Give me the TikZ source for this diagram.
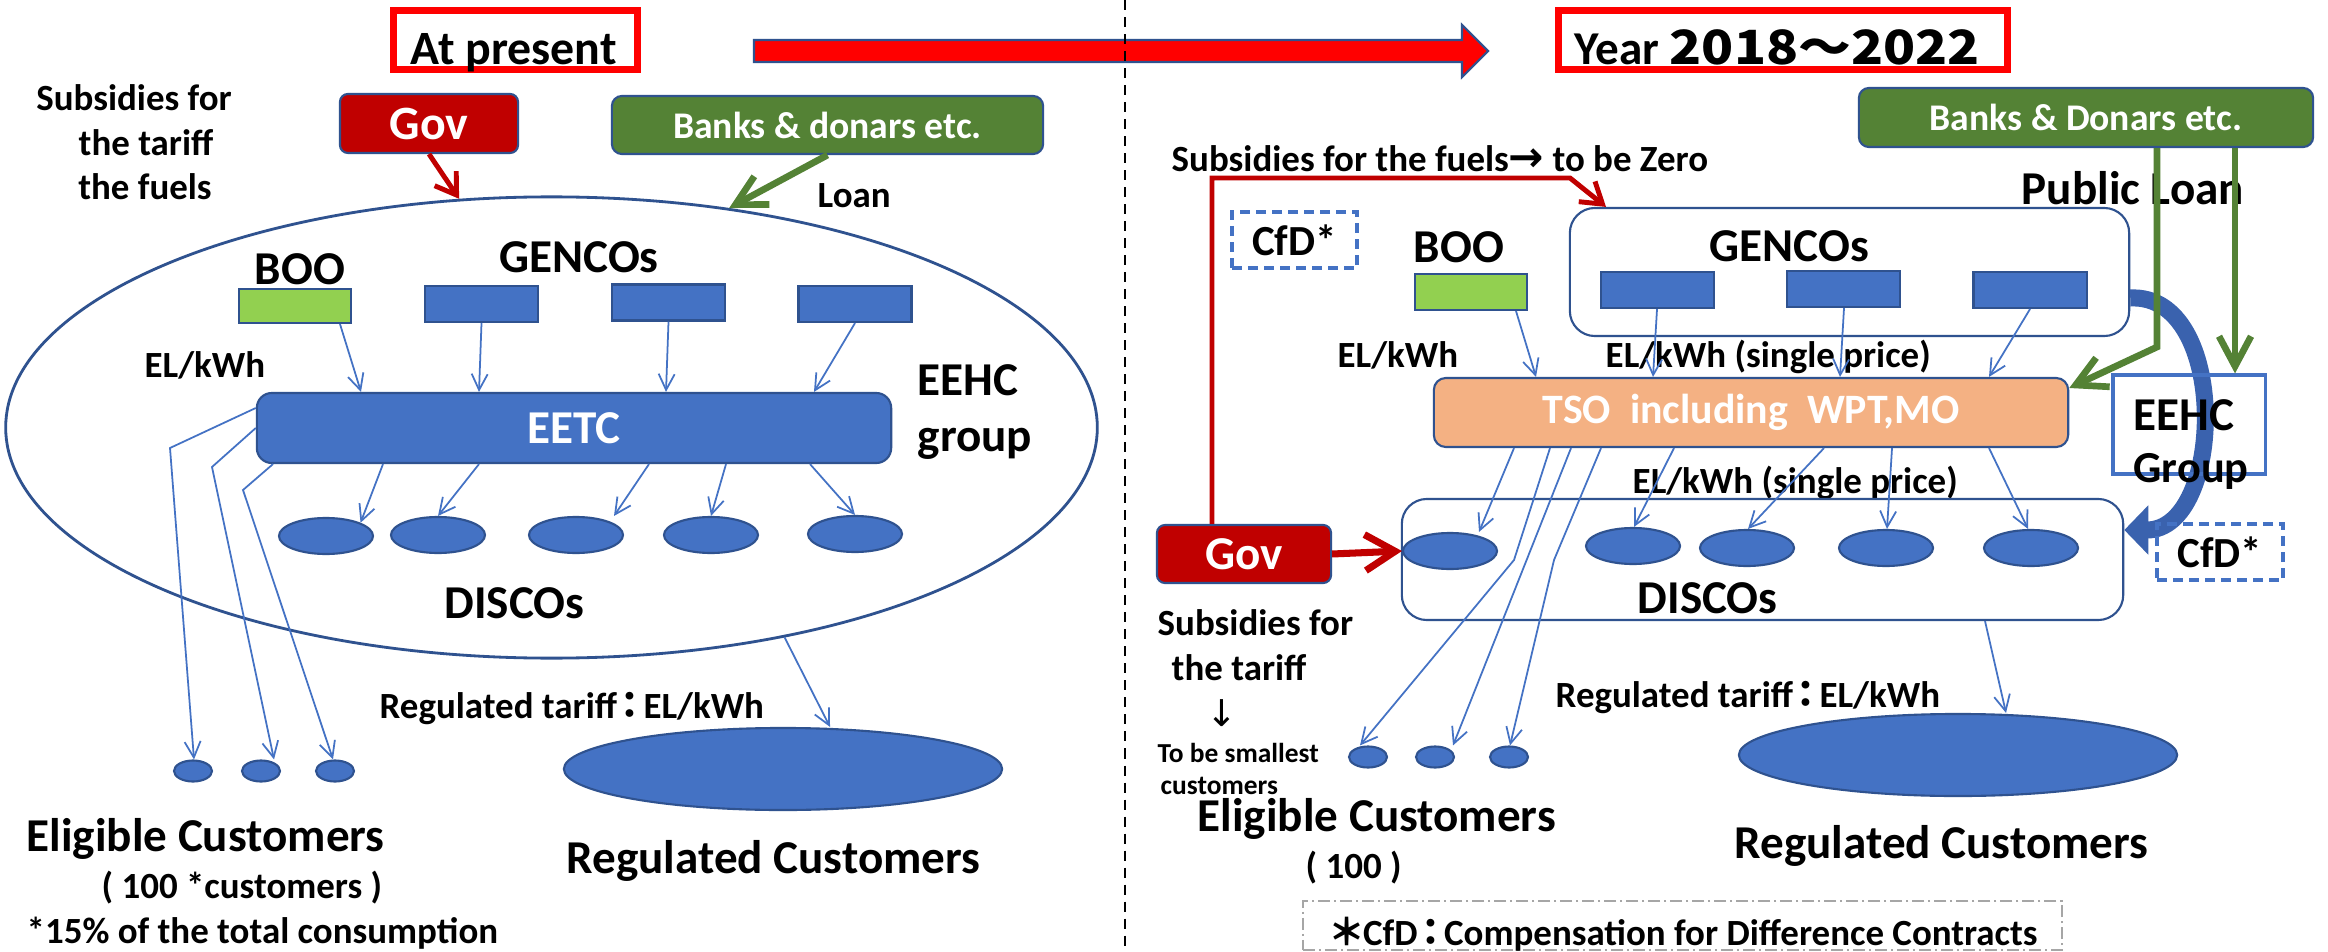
\documentclass[tikz,border=0pt]{standalone}
\usepackage{fontspec}
\usepackage{graphicx}
\setmainfont{Carlito}
\newfontfamily\cjk{Noto Sans CJK JP}
\newfontfamily\dv{DejaVu Sans}
\usetikzlibrary{shapes.geometric,arrows.meta,calc}
\definecolor{pblue}{HTML}{4472C4}
\definecolor{dblue}{HTML}{2F528F}
\definecolor{cblue}{HTML}{3A62AE}
\definecolor{dred}{HTML}{C00000}
\definecolor{pgreen}{HTML}{548235}
\definecolor{lgreen}{HTML}{92D050}
\definecolor{porange}{HTML}{F4B183}
\definecolor{fgray}{HTML}{A6A6A6}
\newcommand\jcolon{\kern-0.14em{\cjk\bfseries ：}\kern-0.14em}
\newcommand\jstar{\kern-0.1em{\cjk\bfseries ＊}\kern-0.05em}
\begin{document}
\begin{tikzpicture}[x=0.01cm,y=-0.01cm,
  txt/.style={inner sep=0pt,text=black},
  big/.style={txt,font=\bfseries\fontsize{13.4}{16}\selectfont},
  mid/.style={txt,font=\bfseries\fontsize{10.5}{12.6}\selectfont},
  bluebox/.style={rectangle,fill=pblue,draw=dblue,line width=0.6pt,inner sep=0pt},
  genbox/.style={bluebox,minimum width=1.13cm,minimum height=0.36cm},
  boobox/.style={rectangle,fill=lgreen,draw=dblue,line width=0.6pt,inner sep=0pt,minimum width=1.12cm,minimum height=0.35cm},
  disco/.style={ellipse,fill=pblue,draw=dblue,line width=0.6pt,inner sep=0pt,minimum width=0.94cm,minimum height=0.36cm},
  cust/.style={ellipse,fill=pblue,draw=dblue,line width=0.6pt,inner sep=0pt,minimum width=0.38cm,minimum height=0.21cm},
  regc/.style={ellipse,fill=pblue,draw=dblue,line width=0.6pt,inner sep=0pt,minimum width=4.38cm,minimum height=0.82cm},
  govbox/.style={rectangle,rounded corners=0.08cm,fill=dred,draw=dblue,line width=0.6pt,inner sep=0pt},
  bankbox/.style={rectangle,rounded corners=0.1cm,fill=pgreen,draw=dblue,line width=0.6pt,inner sep=0pt},
  groupbox/.style={rectangle,rounded corners=0.25cm,draw=dblue,line width=0.6pt,inner sep=0pt},
  titlebox/.style={rectangle,draw=red,line width=2pt,inner sep=0pt},
  cfdbox/.style={rectangle,draw=pblue,line width=0.9pt,dash pattern=on 0.1cm off 0.06cm,inner sep=0pt,
    font=\bfseries\fontsize{12.2}{14}\selectfont},
  thinarrow/.style={pblue,line width=0.5pt,-{Straight Barb[length=0.16cm,width=0.16cm]}},
  redarrow/.style={dred,line width=1.4pt,-{Straight Barb[length=0.2cm,width=0.26cm]}},
  bigredarrow/.style={dred,line width=2pt,-{Straight Barb[length=0.3cm,width=0.36cm]}},
  greenarrow/.style={pgreen,line width=1.9pt,-{Straight Barb[length=0.3cm,width=0.32cm]}},
  curvearrow/.style={cblue,line width=0.17cm,-{Triangle[length=0.24cm,width=0.48cm]}},
]
\useasboundingbox (0,0) rectangle (2328,952);
\clip (0,0) rectangle (2328,952);
\fill[white] (0,0) rectangle (2328,952);

% ---------- titles ----------
\node[titlebox,minimum width=2.44cm,minimum height=0.59cm] (presentbox) at (515.5,40) {};
\node[txt,font=\bfseries\fontsize{13.6}{16}\selectfont,anchor=base west] (present) at (410,65) {At present};
\node[titlebox,minimum width=4.49cm,minimum height=0.59cm] (yearbox) at (1783,40) {};
\node[big,anchor=base west] (year) at (1574,65) {Year {\cjk\bfseries\scalebox{1.12}[1]{2018～2022}}};
\draw[fill=red,draw=dblue,line width=0.6pt] (754,40) -- (1462,40) -- (1462,25) -- (1488,51) -- (1462,77) -- (1462,62) -- (754,62) -- cycle;
\draw[black,line width=0.6pt,dash pattern=on 0.1cm off 0.07cm] (1125,0) -- (1125,952);

% ---------- LEFT ----------
\node[mid,anchor=base] (subsL1) at (134,111) {Subsidies for};
\node[mid,anchor=base] (subsL2) at (146,156) {the tariff};
\node[mid,anchor=base] (subsL3) at (145,200) {the fuels};
\node[govbox,minimum width=1.78cm,minimum height=0.59cm,text=white,font=\bfseries\fontsize{13.6}{16}\selectfont] (govL) at (429,123.5) {Gov};
\node[bankbox,minimum width=4.31cm,minimum height=0.58cm,text=white,font=\bfseries\fontsize{10.7}{12.6}\selectfont] (banksL) at (827.5,125) {Banks \& donars etc.};
\node[mid,anchor=base west] (loan) at (817,208) {Loan};
\node[ellipse,draw=dblue,line width=0.8pt,minimum width=10.91cm,minimum height=4.61cm,inner sep=0pt] (eehcL) at (551.5,427.5) {};
\node[big,anchor=base] (booLt) at (300,285) {BOO};
\node[boobox,minimum height=0.34cm] (booL) at (295,306) {};
\node[big,anchor=base] (gencoLt) at (579,273) {GENCOs};
\node[genbox] (g1L) at (481.5,304) {};
\node[genbox] (g2L) at (668.5,302.5) {};
\node[genbox] (g3L) at (855,304) {};
\node[mid,anchor=base west] (elL) at (144,377) {EL/kWh};
\node[bluebox,rounded corners=0.15cm,minimum width=6.34cm,minimum height=0.7cm,text=white,font=\bfseries\fontsize{13.4}{16}\selectfont] (eetc) at (574,428) {EETC};
\node[big,anchor=base west] (eehcLt1) at (917,396) {EEHC};
\node[big,anchor=base west] (eehcLt2) at (917,452) {group};
\node[disco] (e1) at (326,536) {};
\node[disco] (e2) at (438,535) {};
\node[disco] (e3) at (576,535) {};
\node[disco] (e4) at (711,535) {};
\node[disco] (e5) at (855,534) {};
\node[big,anchor=base west] (discoLt) at (444,618) {DISCOs};
\node[mid,anchor=base west] (tarL) at (379,718) {Regulated tariff\jcolon EL/kWh};
\node[cust] (c1) at (193,771) {};
\node[cust] (c2) at (261,771) {};
\node[cust] (c3) at (335,771) {};
\node[regc] (regL) at (783,769) {};
\node[big,anchor=base west] (eligL) at (26,851) {Eligible Customers};
\node[mid,anchor=base west] (eligL2) at (101,898) {( 100 *customers )};
\node[mid,anchor=base west] (eligL3) at (26,943) {*15\% of the total consumption};
\node[big,anchor=base west] (regLt) at (566,873) {Regulated Customers};

\draw[redarrow] (govL.south) -- (eehcL.112);
\draw[greenarrow] (banksL.south) -- (eehcL.51);
\draw[thinarrow] (340,0 |- booL.south) -- (361,0 |- eetc.north);
\draw[thinarrow] (g1L.south) -- (479,0 |- eetc.north);
\draw[thinarrow] (g2L.south) -- (666,0 |- eetc.north);
\draw[thinarrow] (g3L.south) -- (814,0 |- eetc.north);
\draw[thinarrow] (383,0 |- eetc.south) -- (e1.21);
\draw[thinarrow] (479,0 |- eetc.south) -- (e2.north);
\draw[thinarrow] (649,0 |- eetc.south) -- (614,0 |- e3.north);
\draw[thinarrow] (726,0 |- eetc.south) -- (e4.north);
\draw[thinarrow] (810,0 |- eetc.south) -- (e5.north);
\draw[thinarrow] (eetc.west |- 0,408) -- (170,448) -- (194,0 |- c1.north);
\draw[thinarrow] (eetc.west) -- (212,467) -- (274,0 |- c2.north);
\draw[thinarrow] (273,0 |- eetc.south) -- (243,490) -- (333,0 |- c3.north);
\draw[thinarrow] (eehcL.318) -- (830,0 |- regL.north);

% ---------- RIGHT ----------
\node[bankbox,minimum width=4.54cm,minimum height=0.59cm,text=white,font=\bfseries\fontsize{10.7}{12.6}\selectfont] (banksR) at (2086,117.5) {Banks \& Donars etc.};
\node[mid,anchor=base west] (subsR) at (1171,172) {Subsidies for the fuels{\dv\bfseries\fontsize{12}{12}\selectfont →} to be Zero};
\node[big,anchor=base west] (ploan) at (2021,205) {Public Loan};
\node[cfdbox,minimum width=1.25cm,minimum height=0.56cm] (cfd1) at (1294.5,240) {CfD*};
\node[big,anchor=base west] (booRt) at (1413,263) {BOO};
\node[boobox,minimum height=0.36cm] (booR) at (1471,292) {};
\node[groupbox,minimum width=5.59cm,minimum height=1.28cm] (gencoR) at (1849.5,272) {};
\node[big,anchor=base west] (gencoRt) at (1709,262) {GENCOs};
\node[genbox] (b1) at (1657.5,290) {};
\node[genbox] (b2) at (1843.5,289) {};
\node[genbox] (b3) at (2030,290) {};
\node[mid,anchor=base west] (elR1) at (1337,367) {EL/kWh};
\node[mid,anchor=base west] (elR2) at (1605,368) {EL/kWh (single price)};
\node[rectangle,rounded corners=0.12cm,fill=porange,draw=dblue,line width=0.6pt,inner sep=0pt,minimum width=6.34cm,minimum height=0.69cm,text=white,font=\bfseries\fontsize{11.9}{14}\selectfont] (tso) at (1751,412.5) {TSO~~including~~WPT,MO};
\node[mid,anchor=base west] (elR3) at (1632,493) {EL/kWh (single price)};
\node[groupbox,minimum width=7.21cm,minimum height=1.21cm] (discoR) at (1762.5,559.5) {};
\node[disco] (d1) at (1450,551) {};
\node[disco] (d2) at (1633,546) {};
\node[disco] (d3) at (1747,548) {};
\node[disco] (d4) at (1886,548) {};
\node[disco] (d5) at (2031,548) {};
\node[big,anchor=base west] (discoRt) at (1637,613) {DISCOs};
\node[govbox,minimum width=1.74cm,minimum height=0.58cm,text=white,font=\bfseries\fontsize{13.4}{16}\selectfont] (govR) at (1244,554) {Gov};
\node[mid,anchor=base west] (subsR1) at (1157,635) {Subsidies for};
\node[mid,anchor=base west] (subsR2) at (1171,680) {the tariff};
\node[txt,font=\dv\fontsize{10.5}{12}\selectfont,anchor=base] (down) at (1222,726) {↓};
\node[txt,font=\bfseries\fontsize{7.8}{9}\selectfont,anchor=base west] (small1) at (1157,762) {To be smallest};
\node[txt,font=\bfseries\fontsize{7.8}{9}\selectfont,anchor=base west] (small2) at (1160,794) {customers};
\node[mid,anchor=base west] (tarR) at (1555,707) {Regulated tariff\jcolon EL/kWh};
\node[cust] (c1r) at (1368,757) {};
\node[cust] (c2r) at (1435,757) {};
\node[cust] (c3r) at (1509,757) {};
\node[regc] (regR) at (1958,755) {};
\node[big,anchor=base west] (eligR) at (1197,831) {Eligible Customers};
\node[mid,anchor=base west] (eligR2) at (1305,878) {( 100 )};
\node[big,anchor=base west] (regRt) at (1734,858) {Regulated Customers};
\node[rectangle,draw=fgray,line width=0.6pt,dash pattern=on 0.12cm off 0.04cm on 0.02cm off 0.04cm,inner sep=0pt,minimum width=7.59cm,minimum height=0.49cm] (foot) at (1682.5,925.5) {};
\node[mid,anchor=base west] (foott) at (1331,945) {\jstar CfD\jcolon Compensation for Difference Contracts};
\node[txt,text=fgray,font=\fontsize{10}{12}\selectfont,anchor=base] (pnum) at (2218,975) {15};

\draw[curvearrow] (gencoR.east |- 0,298) .. controls (2230,293) and (2225,530) .. (discoR.east |- 0,530);
\node[rectangle,draw=pblue,line width=0.9pt,inner sep=0pt,minimum width=1.52cm,minimum height=0.99cm] (eehcR) at (2189,424.5) {};
\node[big,anchor=base west] (eehcRt1) at (2133,430) {EEHC};
\node[txt,font=\bfseries\fontsize{12.6}{14}\selectfont,anchor=base west] (eehcRt2) at (2133,482) {Group};
\node[cfdbox,minimum width=1.26cm,minimum height=0.56cm] (cfd2) at (2220,552) {CfD*};

\draw[thinarrow] (1516,0 |- booR.south) -- (1536,0 |- tso.north);
\draw[thinarrow] (1657,0 |- b1.south) -- (1653,0 |- tso.north);
\draw[thinarrow] (1844,0 |- b2.south) -- (1840,0 |- tso.north);
\draw[thinarrow] (2030,0 |- b3.south) -- (1989,0 |- tso.north);
\draw[thinarrow] (1514,0 |- tso.south) -- (1479,0 |- d1.north);
\draw[thinarrow] (1674,0 |- tso.south) -- (1634,0 |- d2.north);
\draw[thinarrow] (1824,0 |- tso.south) -- (1748,0 |- d3.north);
\draw[thinarrow] (1892,0 |- tso.south) -- (1887,0 |- d4.north);
\draw[thinarrow] (1989,0 |- tso.south) -- (2028,0 |- d5.north);
\draw[thinarrow] (1550,0 |- tso.south) -- (1514,560) -- (1360,0 |- c1r.north);
\draw[thinarrow] (1571,0 |- tso.south) -- (1453,0 |- c2r.north);
\draw[thinarrow] (1601,0 |- tso.south) -- (1554,560) -- (1510,0 |- c3r.north);
\draw[thinarrow] (1985,0 |- discoR.south) -- (2006,0 |- regR.north);
\draw[redarrow] (1212,0 |- govR.north) -- (1212,178) -- (1570,178) -- (1606,0 |- gencoR.north);
\draw[bigredarrow] (govR.east) -- (d1.west);
\draw[greenarrow] (2157,0 |- banksR.south) -- (2157,347) -- (tso.east |- 0,388);
\draw[greenarrow] (2235,0 |- banksR.south) -- (2235,0 |- eehcR.north);
\end{tikzpicture}
\end{document}
